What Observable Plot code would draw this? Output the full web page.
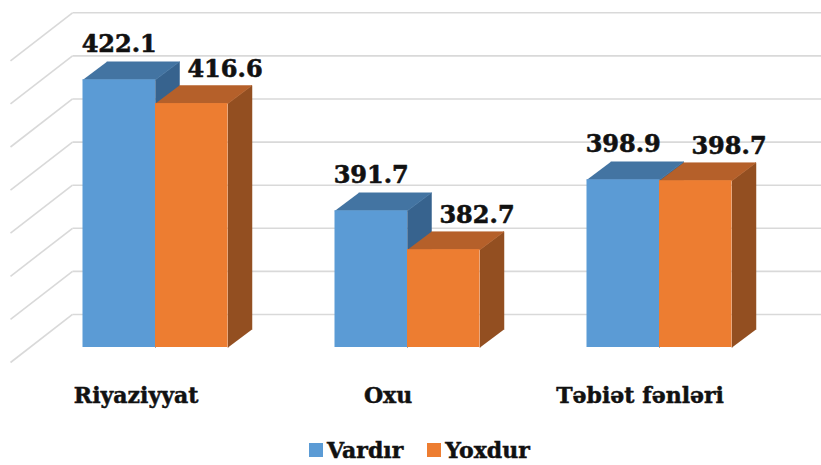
<!DOCTYPE html>
<html>
<head>
<meta charset="utf-8">
<script src="https://cdn.jsdelivr.net/npm/d3@7"></script>
<script src="https://cdn.jsdelivr.net/npm/@observablehq/plot@0.6"></script>
<style>
  body { margin: 0; background: #ffffff; }
  #chart { position: relative; width: 821px; height: 465px; overflow: hidden; }
  #legend { position: absolute; left: 309px; top: 440px; display: flex; gap: 24px;
            font: bold 22px "DejaVu Serif", serif; line-height: 20px; color: #111;
            -webkit-text-stroke: 0.5px #111; }
  #legend .item { display: flex; align-items: center; }
  #legend .sw { width: 14px; height: 14px; margin-right: 4px; display: inline-block; }
</style>
</head>
<body>
<div id="chart"></div>
<script>
// ---- data ----
const categories = ["Riyaziyyat", "Oxu", "Təbiət fənləri"];
const seriesNames = ["Vardır", "Yoxdur"];
const vardir = [422.1, 391.7, 398.9];
const yoxdur = [416.6, 382.7, 398.7];
const gridTicks = [360, 370, 380, 390, 400, 410, 420, 430];

// ---- style ----
const frontColors = ["#5B9BD5", "#ED7D31"];
const topColors = ["#4374A2", "#B5602A"];
const sideColors = ["#37638E", "#934F21"];
const gridColor = "#D9D9D9";
const font = "DejaVu Serif";

const base = 360;
const barW = 0.2877;          // bar width in category units
const depthX = 0.0952;        // bar depth (x, category units)
const depthY = 4.18;          // bar depth (y, value units)
const wallBackY = 7.66;       // back wall offset (value units)
const wallFrontY = -3.48;     // front edge offset (value units)
const wallBackX = -0.3294;    // back-left corner x
const wallFrontX = -0.5754;   // front-left corner x
const wallRightX = 2.66;

const seriesValues = [vardir, yoxdur];

const marks = [];

// back wall gridlines and side wall lines
marks.push(Plot.link(gridTicks, {
  x1: wallFrontX, y1: d => d + wallFrontY, x2: wallBackX, y2: d => d + wallBackY,
  stroke: gridColor, strokeWidth: 1.6
}));
marks.push(Plot.link(gridTicks, {
  x1: wallBackX, y1: d => d + wallBackY, x2: wallRightX, y2: d => d + wallBackY,
  stroke: gridColor, strokeWidth: 1.6
}));

// bars: for each category, blue then orange; side, top, front
categories.forEach((c, i) => {
  seriesValues.forEach((vals, s) => {
    const v = vals[i];
    const x1 = i - barW + s * barW;
    const x2 = x1 + barW;
    const side = [
      {x: x2, y: base}, {x: x2, y: v}, {x: x2 + depthX, y: v + depthY}, {x: x2 + depthX, y: base + depthY}
    ];
    const top = [
      {x: x1, y: v}, {x: x2, y: v}, {x: x2 + depthX, y: v + depthY}, {x: x1 + depthX, y: v + depthY}
    ];
    marks.push(Plot.line(side, {x: "x", y: "y", fill: sideColors[s], stroke: sideColors[s], strokeWidth: 0.5}));
    marks.push(Plot.line(top, {x: "x", y: "y", fill: topColors[s], stroke: topColors[s], strokeWidth: 0.5}));
    marks.push(Plot.rect([{x1, x2, y1: base, y2: v}], {
      x1: "x1", x2: "x2", y1: "y1", y2: "y2", fill: frontColors[s], inset: 0
    }));
  });
});

// value labels
const labelRows = [];
categories.forEach((c, i) => {
  labelRows.push({x: i - barW / 2, y: vardir[i], t: vardir[i].toFixed(1), s: 0});
  labelRows.push({x: i + barW, y: yoxdur[i], t: yoxdur[i].toFixed(1), s: 1});
});
const textStyle = {fontWeight: "bold", fontFamily: font, fill: "#111", stroke: "#111", strokeWidth: 0.6};
marks.push(Plot.text(labelRows.filter(d => d.s === 0), {
  x: "x", y: "y", text: "t", dy: -28, lineAnchor: "bottom", textAnchor: "middle",
  fontSize: 24, ...textStyle
}));
marks.push(Plot.text(labelRows.filter(d => d.s === 1), {
  x: "x", y: "y", text: "t", dy: -27, dx: -3, lineAnchor: "bottom", textAnchor: "middle",
  fontSize: 24, ...textStyle
}));

// category labels (front plane)
marks.push(Plot.text(categories, {
  x: (d, i) => i - 0.077, y: base, text: d => d, dy: 55, lineAnchor: "bottom", textAnchor: "middle",
  fontSize: 22, ...textStyle, strokeWidth: 0.5
}));

const chart = Plot.plot({
  width: 821,
  height: 440,
  margin: 0,
  style: {background: "#ffffff", fontFamily: font},
  x: {type: "linear", domain: [0, 2], range: [155, 659], axis: null},
  y: {type: "linear", domain: [360, 430], range: [347, 45.3], axis: null},
  marks
});

const root = document.getElementById("chart");
root.appendChild(chart);

const legend = document.createElement("div");
legend.id = "legend";
seriesNames.forEach((n, s) => {
  const item = document.createElement("span");
  item.className = "item";
  const sw = document.createElement("span");
  sw.className = "sw";
  sw.style.background = frontColors[s];
  item.appendChild(sw);
  item.appendChild(document.createTextNode(n));
  legend.appendChild(item);
});
root.appendChild(legend);
</script>
</body>
</html>
